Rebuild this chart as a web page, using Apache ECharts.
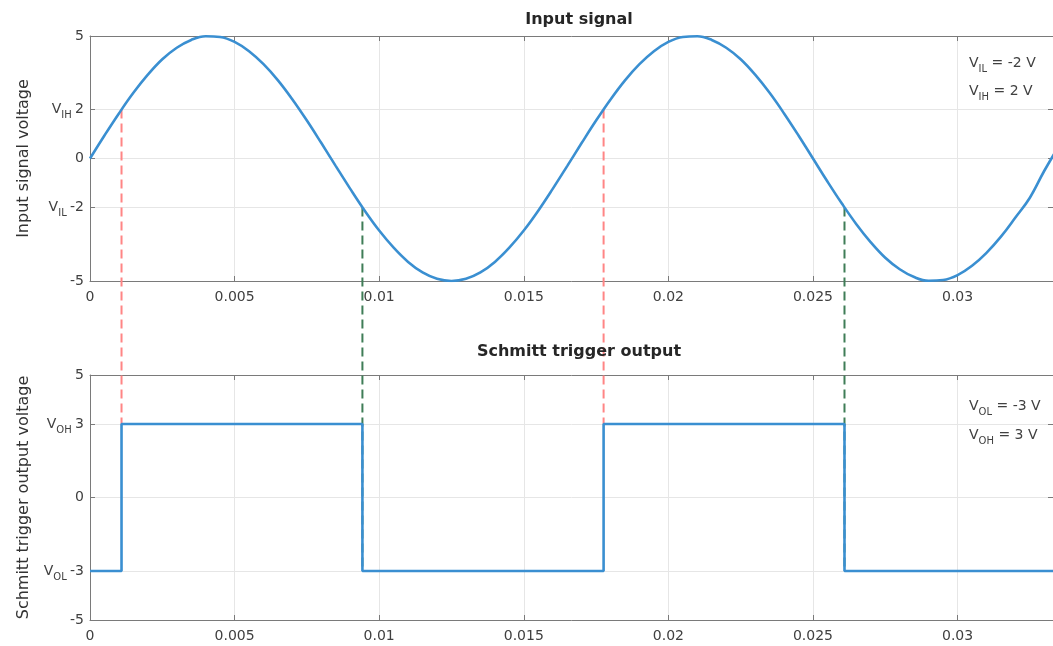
<!DOCTYPE html>
<html>
<head>
<meta charset="utf-8">
<title>Schmitt trigger</title>
<script src="https://cdn.jsdelivr.net/npm/echarts@6.0.0/dist/echarts.min.js"></script>
<style>
html, body { margin: 0; padding: 0; background: #fff; }
#main { width: 1053px; height: 646px; }
</style>
</head>
<body>
<div id="main"></div>
<script>
// input signal (time in s, voltage in V)
var sigT = [0, 0.0005, 0.001, 0.0015, 0.002, 0.0025, 0.003, 0.0035, 0.004, 0.0045,
    0.005, 0.0055, 0.006, 0.0065, 0.007, 0.0075, 0.008, 0.0085, 0.009, 0.0095,
    0.01, 0.0105, 0.011, 0.0115, 0.012, 0.0125, 0.013, 0.0135, 0.014, 0.0145,
    0.015, 0.0155, 0.016, 0.0165, 0.017, 0.0175, 0.018, 0.0185, 0.019, 0.0195,
    0.02, 0.0205, 0.021, 0.0215, 0.022, 0.0225, 0.023, 0.0235, 0.024, 0.0245,
    0.025, 0.0255, 0.026, 0.0265, 0.027, 0.0275, 0.028, 0.0285, 0.029, 0.0295,
    0.03, 0.0305, 0.031, 0.0315, 0.032, 0.0325, 0.033, 0.0335];
var sigV = [0, 0.94, 1.84, 2.68, 3.42, 4.05, 4.52, 4.84, 4.99, 4.96,
    4.76, 4.38, 3.85, 3.19, 2.41, 1.55, 0.63, -0.31, -1.24, -2.13,
    -2.94, -3.64, -4.22, -4.65, -4.91, -5.0, -4.91, -4.65, -4.22, -3.64,
    -2.94, -2.13, -1.24, -0.31, 0.63, 1.55, 2.41, 3.19, 3.85, 4.38,
    4.76, 4.96, 4.99, 4.84, 4.52, 4.05, 3.42, 2.68, 1.84, 0.94,
    0, -0.94, -1.84, -2.68, -3.42, -4.05, -4.52, -4.84, -4.99, -4.96,
    -4.76, -4.38, -3.85, -3.19, -2.41, -1.6, -0.5, 0.5];

// thresholds and output levels
var vIL = -2, vIH = 2;
var vOL = -3, vOH = 3;
// instants where the trigger switches (rise, fall, rise, fall)
var switchT = [0.00109, 0.00942, 0.01776, 0.02609];
var tEnd = 0.0333;

// tick labels
var xTicks = [0, 0.005, 0.01, 0.015, 0.02, 0.025, 0.03];
var xTickLabels = ['0', '0.005', '0.01', '0.015', '0.02', '0.025', '0.03'];
var yTicksIn = [-5, -2, 0, 2, 5];
var yTicksOut = [-5, -3, 0, 3, 5];

var FONT = 'DejaVu Sans';
var AXIS_C = '#7a7a7a';
var GRID_C = '#e6e6e6';
var TEXT_C = '#404040';
var BLUE = '#3a8fd1';

var chart = echarts.init(document.getElementById('main'));

// square wave from the switching instants
function buildOutput() {
    var pts = [[0, vOL]];
    var level = vOL;
    for (var i = 0; i < switchT.length; i++) {
        pts.push([switchT[i], level]);
        level = (level == vOL) ? vOH : vOL;
        pts.push([switchT[i], level]);
    }
    pts.push([tEnd, level]);
    return pts;
}

function xLabel(v) {
    for (var i = 0; i < xTicks.length; i++) {
        if (Math.abs(xTicks[i] - v) < 1e-9) return xTickLabels[i];
    }
    return '';
}

// y tick labels, with V_IH / V_IL etc. in front of the threshold values
function yLabelFn(names) {
    return function (v) {
        var n = names[v];
        if (n) return '{v|V}{s|' + n + '} {n|' + v + '}';
        return '{n|' + v + '}';
    };
}

var richTick = {
    v: { fontFamily: FONT, fontSize: 14, color: TEXT_C },
    s: { fontFamily: FONT, fontSize: 10, color: TEXT_C, padding: [12, 0, 0, 0] },
    n: { fontFamily: FONT, fontSize: 14, color: TEXT_C }
};

function xAxisFor(grid, top) {
    return {
        type: 'value', gridIndex: grid, position: top ? 'top' : 'bottom',
        min: 0, max: tEnd,
        axisLine: { show: true, onZero: false, lineStyle: { color: AXIS_C, width: 1 } },
        axisTick: { show: true, inside: true, length: 5, customValues: xTicks, lineStyle: { color: AXIS_C } },
        axisLabel: {
            show: !top, customValues: xTicks, formatter: xLabel, margin: 9,
            fontFamily: FONT, fontSize: 14, color: TEXT_C
        },
        splitLine: { show: !top, lineStyle: { color: GRID_C, width: 1 } }
    };
}

function yAxisFor(grid, right, ticks, names, title) {
    return {
        type: 'value', gridIndex: grid, position: right ? 'right' : 'left',
        min: -5, max: 5,
        name: right ? '' : title, nameLocation: 'middle', nameGap: 58,
        nameTextStyle: { fontFamily: FONT, fontSize: 16, color: '#333' },
        axisLine: { show: true, onZero: false, lineStyle: { color: AXIS_C, width: 1 } },
        axisTick: { show: true, inside: true, length: 5, customValues: ticks, lineStyle: { color: AXIS_C } },
        axisLabel: {
            show: !right, customValues: ticks, margin: 6,
            formatter: yLabelFn(names), rich: richTick
        },
        splitLine: { show: !right, lineStyle: { color: GRID_C, width: 1 } }
    };
}

var option = {
    animation: false,
    backgroundColor: '#fff',
    title: [
        { text: 'Input signal', left: 574, top: 7, textAlign: 'center',
          textStyle: { fontFamily: FONT, fontSize: 16, fontWeight: 'bold', color: '#262626' } },
        { text: 'Schmitt trigger output', left: 574, top: 339, textAlign: 'center',
          textStyle: { fontFamily: FONT, fontSize: 16, fontWeight: 'bold', color: '#262626' } }
    ],
    grid: [
        { left: 90, right: -5, top: 36, height: 245 },
        { left: 90, right: -5, top: 375, height: 245 }
    ],
    xAxis: [xAxisFor(0, false), xAxisFor(0, true), xAxisFor(1, false), xAxisFor(1, true)],
    yAxis: [
        yAxisFor(0, false, yTicksIn, { '2': 'IH', '-2': 'IL' }, 'Input signal voltage'),
        yAxisFor(0, true, yTicksIn, {}, ''),
        yAxisFor(1, false, yTicksOut, { '3': 'OH', '-3': 'OL' }, 'Schmitt trigger output voltage'),
        yAxisFor(1, true, yTicksOut, {}, '')
    ],
    series: [
        {
            type: 'line', xAxisIndex: 0, yAxisIndex: 0, showSymbol: false, z: 3,
            smooth: 0.4,
            data: sigT.map(function (t, i) { return [t, sigV[i]]; }),
            lineStyle: { color: BLUE, width: 2.6 }
        },
        {
            type: 'line', xAxisIndex: 2, yAxisIndex: 2, showSymbol: false, z: 3,
            data: buildOutput(),
            lineStyle: { color: BLUE, width: 2.6 }
        }
    ]
};
chart.setOption(option);

// dashed guides from the threshold crossings down to the output edges
var graphics = [];
for (var i = 0; i < switchT.length; i++) {
    var rising = (i % 2 == 0);
    var p1 = chart.convertToPixel({ seriesIndex: 0 }, [switchT[i], rising ? vIH : vIL]);
    var p2 = chart.convertToPixel({ seriesIndex: 1 }, [switchT[i], rising ? vOH : vOL]);
    graphics.push({
        type: 'line', z: 1,
        shape: { x1: p1[0], y1: p1[1], x2: p2[0], y2: p2[1] },
        style: { stroke: rising ? '#ff8585' : '#3f7d57', lineWidth: 2, lineDash: [9, 5] }
    });
}

// threshold notes in the upper right of each panel
var richNote = {
    v: { fontFamily: FONT, fontSize: 14, fill: TEXT_C, color: TEXT_C },
    s: { fontFamily: FONT, fontSize: 10, fill: TEXT_C, color: TEXT_C, padding: [12, 0, 0, 0] }
};
function note(y, sub, val) {
    return {
        type: 'text', x: 969, y: y, z: 10,
        style: {
            text: '{v|V}{s|' + sub + '}{v| = ' + val + ' V}',
            rich: richNote, verticalAlign: 'middle', fill: TEXT_C
        }
    };
}
graphics.push(note(63, 'IL', vIL));
graphics.push(note(91, 'IH', vIH));
graphics.push(note(406, 'OL', vOL));
graphics.push(note(435, 'OH', vOH));

chart.setOption({ graphic: graphics });
</script>
</body>
</html>
